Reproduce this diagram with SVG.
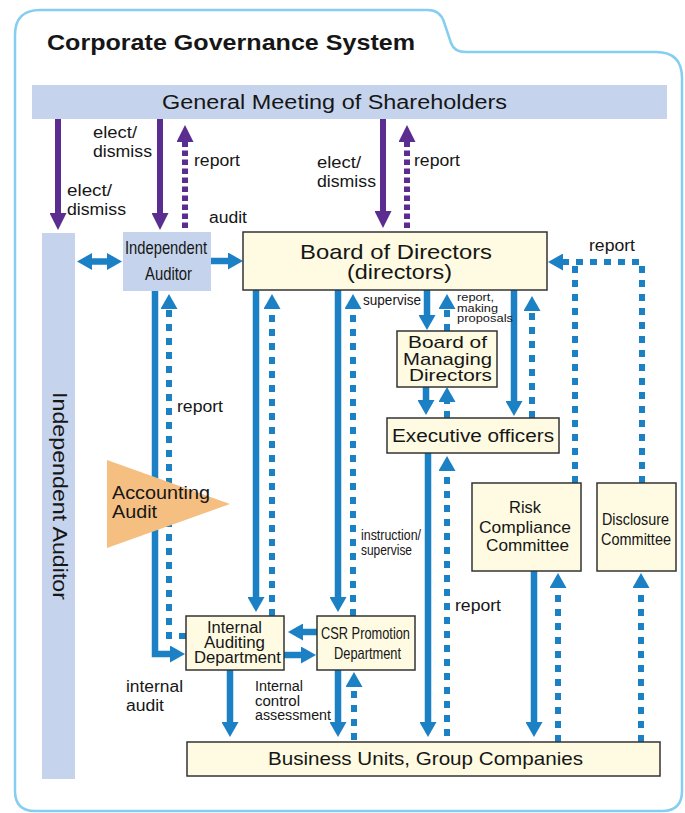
<svg xmlns="http://www.w3.org/2000/svg" width="685" height="813" viewBox="0 0 685 813">
<style>
.t{font-family:"Liberation Sans",Arial,Helvetica,sans-serif;fill:#161616}
.box{fill:#fefbe2;stroke:#333;stroke-width:1.5}
.lb{fill:#c5d4ec}
.pu{stroke:#5c2d91;stroke-width:6;fill:none}
.pud{stroke-dasharray:5.5 3.5}
.bl{stroke:#1b80c4;stroke-width:6.5;fill:none}
.bld{stroke-width:6;stroke-dasharray:7 7}
</style>
<defs>
<marker id="ap" markerUnits="userSpaceOnUse" markerWidth="17" markerHeight="17" viewBox="0 0 17 17" refX="0" refY="8.5" orient="auto"><path d="M0,0 L17,8.5 L0,17 z" fill="#5c2d91"/></marker>
<marker id="ab" markerUnits="userSpaceOnUse" markerWidth="15" markerHeight="17" viewBox="0 0 15 17" refX="0" refY="8.5" orient="auto"><path d="M0,0 L15,8.5 L0,17 z" fill="#1b80c4"/></marker>
<marker id="abs" markerUnits="userSpaceOnUse" markerWidth="15" markerHeight="17" viewBox="0 0 15 17" refX="0" refY="8.5" orient="auto-start-reverse"><path d="M0,0 L15,8.5 L0,17 z" fill="#1b80c4"/></marker>
</defs>

<g id="frame">
<path d="M15,791 V35 Q15,10 40,10 H428 Q440,10 444,22 L451,43 Q454,52 466,52 H656 Q682,52 682,78 V791 Q682,811 662,811 H35 Q15,811 15,791 Z" fill="none" stroke="#86cdf2" stroke-width="2.5"/>
<text class="t" x="47" y="50" font-size="22" font-weight="bold" textLength="368" lengthAdjust="spacingAndGlyphs">Corporate Governance System</text>
</g>

<g id="connectors">
<path class="pu" d="M58,119 V213" marker-end="url(#ap)"/>
<path class="pu" d="M160,119 V213" marker-end="url(#ap)"/>
<path class="pu pud" d="M185,228 V142" marker-end="url(#ap)"/>
<path class="pu" d="M383,119 V211" marker-end="url(#ap)"/>
<path class="pu pud" d="M407,228 V142" marker-end="url(#ap)"/>
<path class="bl" d="M92,261.5 H107" marker-start="url(#abs)" marker-end="url(#abs)"/>
<path class="bl" d="M211,261 H228" marker-end="url(#ab)"/>
<path class="bl" d="M155,291 V654 H170" marker-end="url(#ab)"/>
<path class="bl" d="M256,290 V597" marker-end="url(#ab)"/>
<path class="bl" d="M338,290 V597" marker-end="url(#ab)"/>
<path class="bl" d="M427,290 V315" marker-end="url(#ab)"/>
<path class="bl" d="M514,290 V401" marker-end="url(#ab)"/>
<path class="bl" d="M426,387 V400" marker-end="url(#ab)"/>
<path class="bl" d="M428,453 V722" marker-end="url(#ab)"/>
<path class="bl" d="M534,571 V722" marker-end="url(#ab)"/>
<path class="bl" d="M230,670 V722" marker-end="url(#ab)"/>
<path class="bl" d="M338,670 V722" marker-end="url(#ab)"/>
<path class="bl" d="M317,632 H303" marker-end="url(#ab)"/>
<path class="bl" d="M284,655 H301" marker-end="url(#ab)"/>
<path class="bl bld" d="M186,636 H169 V309" marker-end="url(#ab)"/>
<path class="bl bld" d="M272,616 V309" marker-end="url(#ab)"/>
<path class="bl bld" d="M353,616 V309" marker-end="url(#ab)"/>
<path class="bl bld" d="M447,331 V309" marker-end="url(#ab)"/>
<path class="bl bld" d="M532,418 V311" marker-end="url(#ab)"/>
<path class="bl bld" d="M447,418 V402" marker-end="url(#ab)"/>
<path class="bl bld" d="M642,483 V262 H563" marker-end="url(#ab)"/>
<path class="bl bld" d="M575,483 V262"/>
<path class="bl bld" d="M447,736 V471" marker-end="url(#ab)"/>
<path class="bl bld" d="M558,742 V588" marker-end="url(#ab)"/>
<path class="bl bld" d="M641,742 V588" marker-end="url(#ab)"/>
<path class="bl bld" d="M354,740 V687" marker-end="url(#ab)"/>
</g>

<g id="labels">
<text class="t" font-size="16"><tspan x="67" y="196" textLength="45" lengthAdjust="spacingAndGlyphs">elect/</tspan><tspan x="67" y="215" textLength="59" lengthAdjust="spacingAndGlyphs">dismiss</tspan></text>
<text class="t" font-size="16"><tspan x="93" y="138" textLength="44" lengthAdjust="spacingAndGlyphs">elect/</tspan><tspan x="93" y="157" textLength="59" lengthAdjust="spacingAndGlyphs">dismiss</tspan></text>
<text class="t" font-size="16" x="194" y="166" textLength="46" lengthAdjust="spacingAndGlyphs">report</text>
<text class="t" font-size="16" x="209" y="223" textLength="38" lengthAdjust="spacingAndGlyphs">audit</text>
<text class="t" font-size="16"><tspan x="317" y="168" textLength="44" lengthAdjust="spacingAndGlyphs">elect/</tspan><tspan x="317" y="187" textLength="59" lengthAdjust="spacingAndGlyphs">dismiss</tspan></text>
<text class="t" font-size="16" x="414" y="166" textLength="46" lengthAdjust="spacingAndGlyphs">report</text>
<text class="t" font-size="16" x="589" y="251" textLength="46" lengthAdjust="spacingAndGlyphs">report</text>
<text class="t" font-size="14.5" x="363" y="305" textLength="58" lengthAdjust="spacingAndGlyphs">supervise</text>
<text class="t" font-size="11.5"><tspan x="457" y="301" textLength="37" lengthAdjust="spacingAndGlyphs">report,</tspan><tspan x="457" y="311.5" textLength="41" lengthAdjust="spacingAndGlyphs">making</tspan><tspan x="457" y="322" textLength="56" lengthAdjust="spacingAndGlyphs">proposals</tspan></text>
<text class="t" font-size="16" x="177" y="412" textLength="46" lengthAdjust="spacingAndGlyphs">report</text>
<text class="t" font-size="15.5"><tspan x="361" y="540" textLength="60" lengthAdjust="spacingAndGlyphs">instruction/</tspan><tspan x="361" y="555" textLength="51" lengthAdjust="spacingAndGlyphs">supervise</tspan></text>
<text class="t" font-size="16" x="455" y="611" textLength="46" lengthAdjust="spacingAndGlyphs">report</text>
<text class="t" font-size="16"><tspan x="126" y="692" textLength="57" lengthAdjust="spacingAndGlyphs">internal</tspan><tspan x="126" y="711" textLength="38" lengthAdjust="spacingAndGlyphs">audit</tspan></text>
<text class="t" font-size="14"><tspan x="255" y="691" textLength="48" lengthAdjust="spacingAndGlyphs">Internal</tspan><tspan x="255" y="706" textLength="45" lengthAdjust="spacingAndGlyphs">control</tspan><tspan x="255" y="720" textLength="76" lengthAdjust="spacingAndGlyphs">assessment</tspan></text>
</g>

<g id="shareholders">
<rect class="lb" x="32" y="85" width="635" height="34"/>
<text class="t" x="162" y="109" font-size="20" textLength="345" lengthAdjust="spacingAndGlyphs">General Meeting of Shareholders</text>
</g>

<g id="independent-auditor-bar">
<rect class="lb" x="42" y="233" width="33" height="546"/>
<text class="t" font-size="20" transform="translate(53,392) rotate(90)" textLength="208" lengthAdjust="spacingAndGlyphs">Independent Auditor</text>
</g>

<g id="independent-auditor">
<rect class="lb" x="123" y="232" width="88" height="59"/>
<text class="t" font-size="19"><tspan x="125" y="254" textLength="82" lengthAdjust="spacingAndGlyphs">Independent</tspan><tspan x="145" y="280" textLength="47" lengthAdjust="spacingAndGlyphs">Auditor</tspan></text>
</g>

<g id="board">
<rect class="box" x="243" y="232" width="304" height="58"/>
<text class="t" font-size="21"><tspan x="300" y="259" textLength="192" lengthAdjust="spacingAndGlyphs">Board of Directors</tspan><tspan x="347" y="279" textLength="105" lengthAdjust="spacingAndGlyphs">(directors)</tspan></text>
</g>

<g id="managing">
<rect class="box" x="397" y="331" width="100" height="56"/>
<text class="t" font-size="17"><tspan x="408" y="348" textLength="79" lengthAdjust="spacingAndGlyphs">Board of</tspan><tspan x="403" y="365" textLength="89" lengthAdjust="spacingAndGlyphs">Managing</tspan><tspan x="409" y="381" textLength="83" lengthAdjust="spacingAndGlyphs">Directors</tspan></text>
</g>

<g id="executive">
<rect class="box" x="387" y="418" width="172" height="35"/>
<text class="t" font-size="18" x="392" y="442" textLength="162" lengthAdjust="spacingAndGlyphs">Executive officers</text>
</g>

<g id="risk">
<rect class="box" x="472" y="483" width="109" height="88"/>
<text class="t" font-size="17"><tspan x="509" y="513" textLength="32" lengthAdjust="spacingAndGlyphs">Risk</tspan><tspan x="479" y="533" textLength="92" lengthAdjust="spacingAndGlyphs">Compliance</tspan><tspan x="486" y="551" textLength="83" lengthAdjust="spacingAndGlyphs">Committee</tspan></text>
</g>

<g id="disclosure">
<rect class="box" x="597" y="483" width="79" height="88"/>
<text class="t" font-size="17"><tspan x="602" y="525" textLength="67" lengthAdjust="spacingAndGlyphs">Disclosure</tspan><tspan x="601" y="545" textLength="70" lengthAdjust="spacingAndGlyphs">Committee</tspan></text>
</g>

<g id="accounting-audit">
<path d="M107,460 L107,548 L230,504 Z" fill="#f5bf82"/>
<text class="t" font-size="18"><tspan x="112" y="499" textLength="98" lengthAdjust="spacingAndGlyphs">Accounting</tspan><tspan x="112" y="518" textLength="45" lengthAdjust="spacingAndGlyphs">Audit</tspan></text>
</g>

<g id="internal-auditing">
<rect class="box" x="186" y="616" width="98" height="54"/>
<text class="t" font-size="16"><tspan x="207" y="633" textLength="55" lengthAdjust="spacingAndGlyphs">Internal</tspan><tspan x="204" y="648" textLength="61" lengthAdjust="spacingAndGlyphs">Auditing</tspan><tspan x="194" y="663" textLength="87" lengthAdjust="spacingAndGlyphs">Department</tspan></text>
</g>

<g id="csr">
<rect class="box" x="317" y="616" width="98" height="54"/>
<text class="t" font-size="17"><tspan x="321" y="639" textLength="89" lengthAdjust="spacingAndGlyphs">CSR Promotion</tspan><tspan x="334" y="659" textLength="67" lengthAdjust="spacingAndGlyphs">Department</tspan></text>
</g>

<g id="business">
<rect class="box" x="187" y="742" width="473" height="34"/>
<text class="t" font-size="19" x="268" y="765" textLength="315" lengthAdjust="spacingAndGlyphs">Business Units, Group Companies</text>
</g>
</svg>
